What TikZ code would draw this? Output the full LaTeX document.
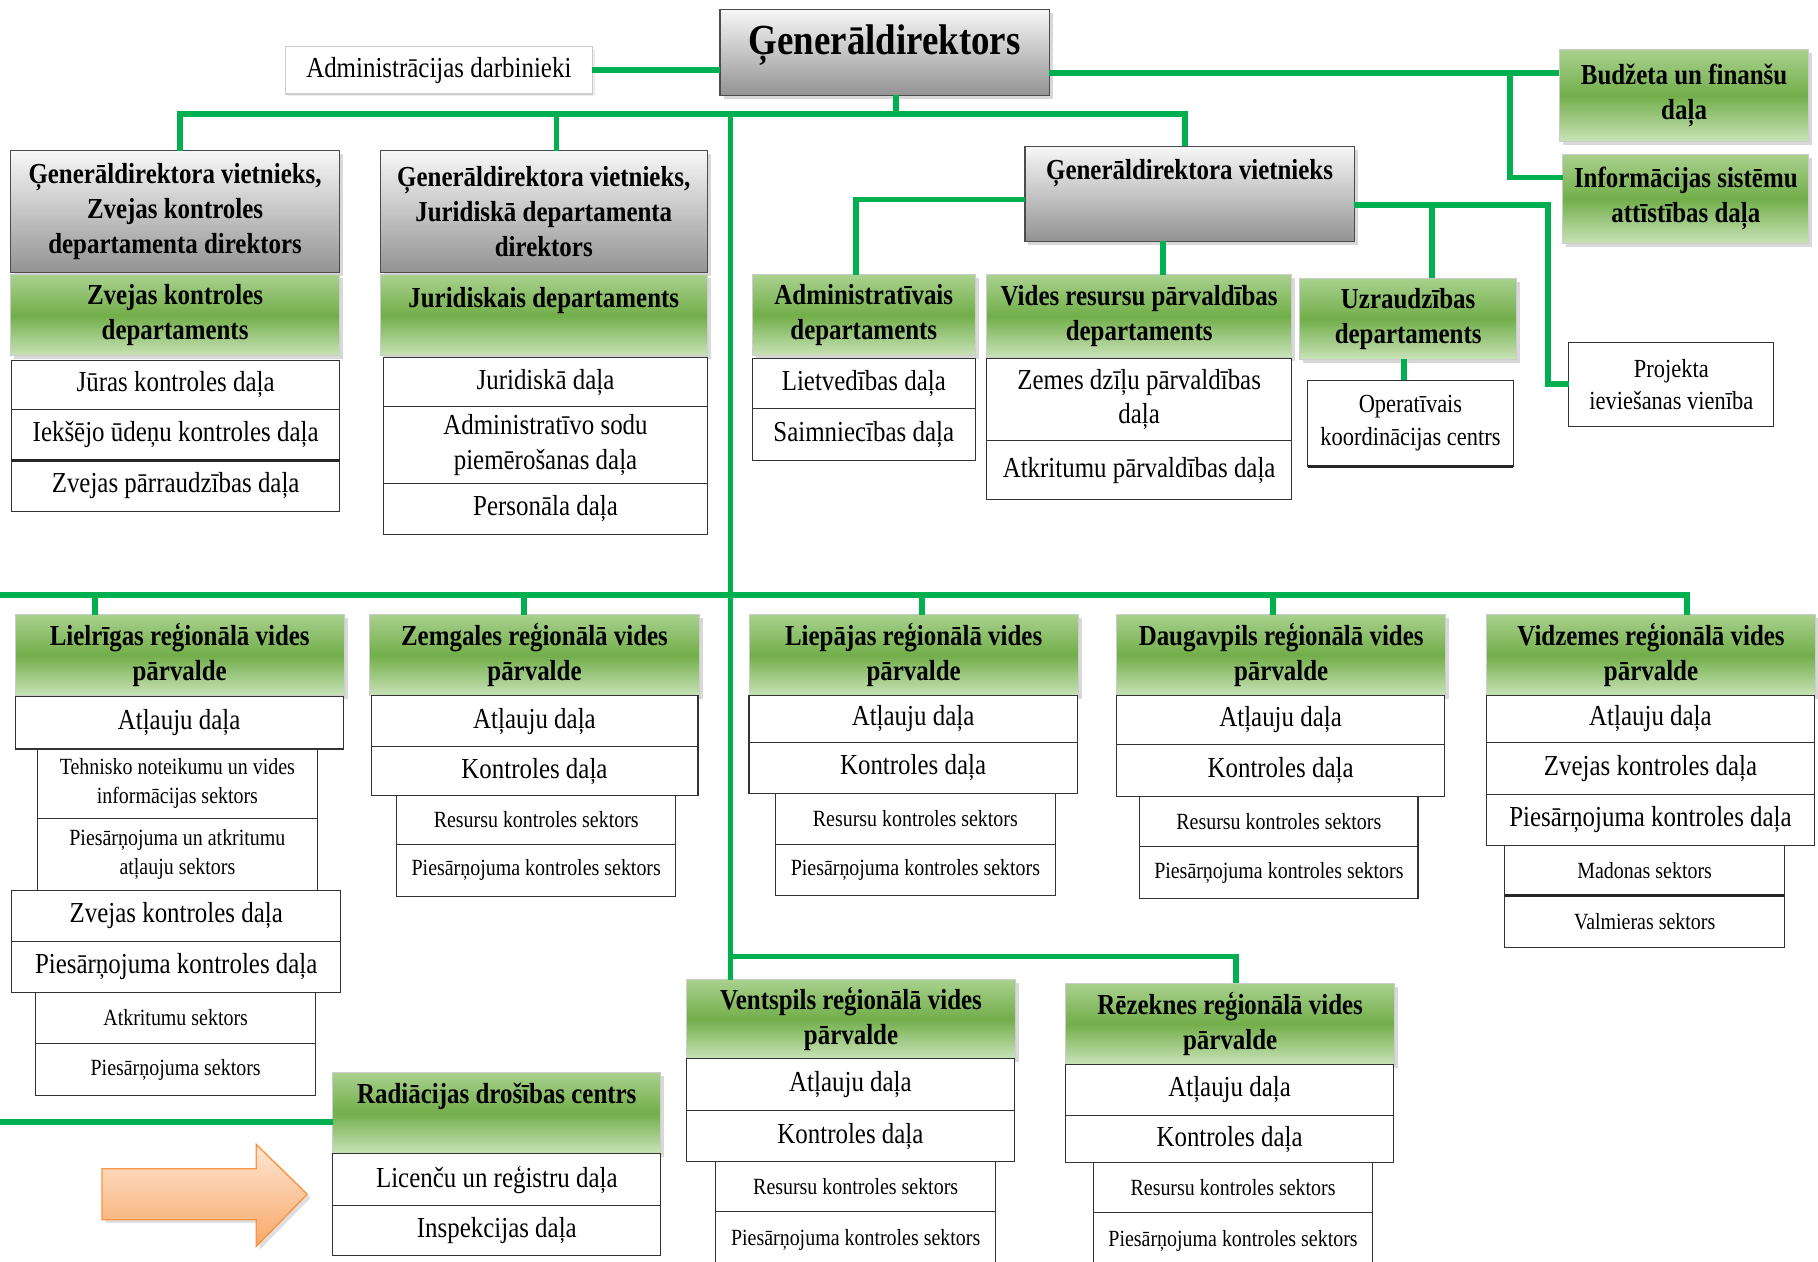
\documentclass[tikz,border=0pt]{standalone}
\usepackage{fontspec}
\setmainfont{Liberation Serif}[FakeStretch=0.86]
\usetikzlibrary{shadows,calc}
\definecolor{conng}{HTML}{00B050}
\definecolor{hdtop}{HTML}{A9D18E}
\definecolor{hdmid}{HTML}{72AE4A}
\definecolor{hdbot}{HTML}{C9E3B8}
\definecolor{grtop}{HTML}{F7F7F7}
\definecolor{grbot}{HTML}{939393}
\definecolor{arrtop}{HTML}{FDE6D4}
\definecolor{arrbot}{HTML}{F9A867}
\definecolor{arrline}{HTML}{F79646}
\newcommand\szN{\fontsize{25}{30}\selectfont}
\newcommand\szS{\fontsize{20}{25}\selectfont}
\newcommand\szM{\fontsize{22.5}{28}\selectfont}
\newcommand\szL{\fontsize{37}{42}\selectfont}
\newcommand\bx[7]{\node[#1,anchor=north west,minimum width=#5pt-#3pt,minimum height=#6pt-#4pt] (#2) at (#3pt,-#4pt) {#7};}
\tikzset{
  basebx/.style={outer sep=0pt,inner sep=2pt,align=center,text=black},
  wbox/.style={basebx,draw=black!80,line width=0.9pt,fill=white,font=\szN},
  wsmall/.style={wbox,font=\szS},
  wmid/.style={wbox,font=\szM},
  greenbx/.style={basebx,draw=black!20,line width=0.8pt,top color=hdtop,bottom color=hdbot,middle color=hdmid,
     font=\szN\bfseries,drop shadow={shadow xshift=3pt,shadow yshift=-3pt,opacity=.3}},
  graybx/.style={basebx,draw=black!70,line width=1pt,top color=grtop,bottom color=grbot,
     font=\szN\bfseries,drop shadow={shadow xshift=3pt,shadow yshift=-3pt,opacity=.3}},
  adminbx/.style={basebx,draw=black!20,line width=1.2pt,fill=white,font=\szN,
     drop shadow={shadow xshift=2pt,shadow yshift=-2pt,opacity=.15}},
  conn/.style={draw=conng,line width=5pt},
  thickbot/.style={draw=black!85,line width=2.6pt}
}
\begin{document}
\begin{tikzpicture}[x=1pt,y=1pt]
\useasboundingbox (0,0) rectangle (1568,-1088);
\fill[white] (0,0) rectangle (1568,-1088);
% top
\bx{graybx,font=\szL\bfseries,text height=26pt,text depth=22pt}{gd}{621}{8}{905}{82}{Ģenerāldirektors}
\bx{adminbx}{admin}{246}{40}{511}{81}{Administrācijas darbinieki}
\bx{greenbx}{bud}{1345}{43}{1560}{122}{Budžeta un finanšu\\daļa}
\bx{greenbx}{info}{1348}{133}{1560}{210}{Informācijas sistēmu\\attīstības daļa}
% deputy 1
\bx{graybx}{v1}{9}{130}{293}{235}{Ģenerāldirektora vietnieks,\\Zvejas kontroles\\departamenta direktors}
\bx{greenbx}{zkd}{9}{237}{293}{307}{Zvejas kontroles\\departaments}
\bx{wbox}{jura}{10}{311}{293}{353}{Jūras kontroles daļa}
\bx{wbox}{iek}{10}{353}{293}{397}{Iekšējo ūdeņu kontroles daļa}
\bx{wbox}{zpd}{10}{397}{293}{441}{Zvejas pārraudzības daļa}
% deputy 2
\bx{graybx}{v2}{328}{130}{610}{235}{Ģenerāldirektora vietnieks,\\Juridiskā departamenta\\direktors}
\bx{greenbx,text height=18pt,text depth=32pt}{jd}{328}{237}{610}{307}{Juridiskais departaments}
\bx{wbox}{jdd}{331}{308}{610}{351}{Juridiskā daļa}
\bx{wbox}{asd}{331}{351}{610}{417}{Administratīvo sodu\\piemērošanas daļa}
\bx{wbox}{pers}{331}{417}{610}{461}{Personāla daļa}
% deputy 3
\bx{graybx,text height=18pt,text depth=42pt}{v3}{884}{126}{1168}{208}{Ģenerāldirektora vietnieks}
\bx{greenbx}{adm}{649}{237}{841}{307}{Administratīvais\\departaments}
\bx{wbox}{lietv}{649}{309}{841}{352}{Lietvedības daļa}
\bx{wbox}{saimn}{649}{352}{841}{397}{Saimniecības daļa}
\bx{greenbx}{vres}{851}{237}{1114}{308}{Vides resursu pārvaldības\\departaments}
\bx{wbox}{zdz}{851}{309}{1114}{380}{Zemes dzīļu pārvaldības\\daļa}
\bx{wbox}{atkp}{851}{380}{1114}{431}{Atkritumu pārvaldības daļa}
\bx{greenbx}{uzr}{1121}{240}{1308}{310}{Uzraudzības\\departaments}
\bx{wmid}{oper}{1128}{328}{1305}{402}{Operatīvais\\koordinācijas centrs}
\bx{wmid}{proj}{1353}{295}{1530}{368}{Projekta\\ieviešanas vienība}
% regional
\bx{greenbx}{lie}{13}{530}{297}{600}{Lielrīgas reģionālā vides\\pārvalde}
\bx{wbox}{la1}{13}{601}{296}{646}{Atļauju daļa}
\bx{wsmall}{ls1}{32}{646}{274}{706}{Tehnisko noteikumu un vides\\informācijas sektors}
\bx{wsmall}{ls2}{32}{706}{274}{768}{Piesārņojuma un atkritumu\\atļauju sektors}
\bx{wbox}{la2}{10}{768}{294}{812}{Zvejas kontroles daļa}
\bx{wbox}{la3}{10}{812}{294}{856}{Piesārņojuma kontroles daļa}
\bx{wsmall}{ls3}{31}{856}{272}{900}{Atkritumu sektors}
\bx{wsmall}{ls4}{31}{900}{272}{945}{Piesārņojuma sektors}
\bx{greenbx}{zem}{319}{530}{603}{600}{Zemgales reģionālā vides\\pārvalde}
\bx{wbox}{za1}{320}{600}{602}{644}{Atļauju daļa}
\bx{wbox}{za2}{320}{644}{602}{686}{Kontroles daļa}
\bx{wsmall}{zs1}{342}{686}{583}{728}{Resursu kontroles sektors}
\bx{wsmall}{zs2}{342}{728}{583}{773}{Piesārņojuma kontroles sektors}
\bx{greenbx}{liep}{646}{530}{930}{600}{Liepājas reģionālā vides\\pārvalde}
\bx{wbox}{pa1}{646}{600}{929}{640}{Atļauju daļa}
\bx{wbox}{pa2}{646}{640}{929}{684}{Kontroles daļa}
\bx{wsmall}{ps1}{669}{684}{910}{728}{Resursu kontroles sektors}
\bx{wsmall}{ps2}{669}{728}{910}{772}{Piesārņojuma kontroles sektors}
\bx{greenbx}{daug}{963}{530}{1247}{600}{Daugavpils reģionālā vides\\pārvalde}
\bx{wbox}{da1}{963}{600}{1246}{642}{Atļauju daļa}
\bx{wbox}{da2}{963}{642}{1246}{687}{Kontroles daļa}
\bx{wsmall}{ds1}{983}{687}{1223}{730}{Resursu kontroles sektors}
\bx{wsmall}{ds2}{983}{730}{1223}{775}{Piesārņojuma kontroles sektors}
\bx{greenbx}{vid}{1282}{530}{1566}{600}{Vidzemes reģionālā vides\\pārvalde}
\bx{wbox}{va1}{1282}{600}{1565}{640}{Atļauju daļa}
\bx{wbox}{va2}{1282}{640}{1565}{685}{Zvejas kontroles daļa}
\bx{wbox}{va3}{1282}{685}{1565}{729}{Piesārņojuma kontroles daļa}
\bx{wsmall}{vs1}{1298}{729}{1539}{772}{Madonas sektors}
\bx{wsmall}{vs2}{1298}{772}{1539}{817}{Valmieras sektors}
\bx{greenbx}{vent}{592}{845}{876}{913}{Ventspils reģionālā vides\\pārvalde}
\bx{wbox}{ea1}{592}{913}{875}{958}{Atļauju daļa}
\bx{wbox}{ea2}{592}{958}{875}{1002}{Kontroles daļa}
\bx{wsmall}{es1}{617}{1002}{859}{1045}{Resursu kontroles sektors}
\bx{wsmall}{es2}{617}{1045}{859}{1094}{Piesārņojuma kontroles sektors}
\bx{greenbx}{rez}{919}{848}{1203}{918}{Rēzeknes reģionālā vides\\pārvalde}
\bx{wbox}{ra1}{919}{918}{1202}{962}{Atļauju daļa}
\bx{wbox}{ra2}{919}{962}{1202}{1003}{Kontroles daļa}
\bx{wsmall}{rs1}{943}{1003}{1184}{1046}{Resursu kontroles sektors}
\bx{wsmall}{rs2}{943}{1046}{1184}{1094}{Piesārņojuma kontroles sektors}
\bx{greenbx,text height=18pt,text depth=34pt}{rad}{287}{925}{570}{995}{Radiācijas drošības centrs}
\bx{wbox}{rd1}{287}{995}{570}{1040}{Licenču un reģistru daļa}
\bx{wbox}{rd2}{287}{1040}{570}{1083}{Inspekcijas daļa}
% thick bottom borders
\draw[thickbot] (iek.south west) -- (iek.south east);
\draw[thickbot] (oper.south west) -- (oper.south east);
\draw[thickbot] (vs1.south west) -- (vs1.south east);
% junction coordinates
\coordinate (bus) at (630,-98);
\coordinate (bus2) at (630,-513);
\coordinate (busL) at (0,-513);
\coordinate (bus3) at (630,-825);
\coordinate (jb) at (1302,-63);
\coordinate (jr) at (1335,-177);
\coordinate (radL) at (0,-968);
% connectors
\draw[conn] (admin.east) -- (admin.east -| gd.west);
\draw[conn] ([yshift=-18pt]gd.east) -- ([yshift=-18pt]gd.east -| bud.west);
\draw[conn] (jb) |- ([yshift=18.5pt]info.west);
\draw[conn] ([xshift=10pt]gd.south) -- ([xshift=10pt]gd.south |- bus);
\draw[conn] ([xshift=4pt]v1.north) |- (bus) -| ([xshift=-4pt]v3.north);
\draw[conn] ([xshift=11pt]v2.north) -- ([xshift=11pt]v2.north |- bus);
\draw[conn] (bus) -- ([xshift=-104pt]vent.north);
\draw[conn] ([yshift=-5pt]v3.west) -| ([xshift=-7pt]adm.north);
\draw[conn] ([xshift=20.5pt]vres.north) -- ([xshift=20.5pt]vres.north |- v3.south);
\draw[conn] ([yshift=-10pt]v3.east) -- (jr) |- (proj.west);
\draw[conn] ([xshift=20.5pt]uzr.north) -- ([xshift=20.5pt]uzr.north |- jr);
\draw[conn] ([xshift=-3.5pt]uzr.south) -- ([xshift=-3.5pt]uzr.south |- oper.north);
\draw[conn] (busL) -| ([xshift=31pt]vid.north);
\draw[conn] ([xshift=-73pt]lie.north) -- ([xshift=-73pt]lie.north |- bus2);
\draw[conn] ([xshift=-9pt]zem.north) -- ([xshift=-9pt]zem.north |- bus2);
\draw[conn] ([xshift=7pt]liep.north) -- ([xshift=7pt]liep.north |- bus2);
\draw[conn] ([xshift=-7pt]daug.north) -- ([xshift=-7pt]daug.north |- bus2);
\draw[conn] (bus3) -| ([xshift=5pt]rez.north);
\draw[conn] (radL) -- (radL -| rad.west);
% orange arrow
\path[draw=arrline,line width=1.2pt,top color=arrtop,bottom color=arrbot,
  drop shadow={shadow xshift=3pt,shadow yshift=-3pt,opacity=.25}]
  (88,-1008) -- (221,-1008) -- (221,-987) -- (265,-1030) -- (221,-1075) -- (221,-1052) -- (88,-1052) -- cycle;
\end{tikzpicture}
\end{document}
